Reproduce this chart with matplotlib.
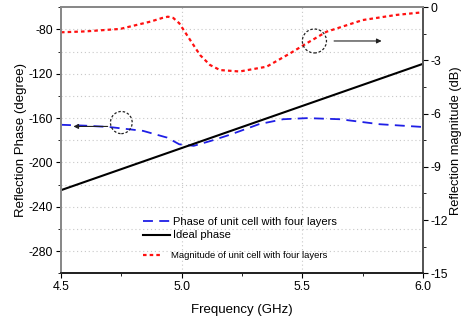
import numpy as np
import matplotlib
matplotlib.use("Agg")
from matplotlib import pyplot as plt
from matplotlib.patches import Ellipse

plt.rcParams['font.family'] = ['Liberation Sans', 'DejaVu Sans']
plt.rcParams['axes.unicode_minus'] = False

# magnitude of unit cell (dB), right axis
mag_f = [4.5, 4.6, 4.745, 4.87, 4.92, 4.943, 4.965, 4.99, 5.035, 5.076, 5.117, 5.159,
         5.24, 5.352, 5.449, 5.518, 5.6, 5.75, 5.89, 6.0]
mag_db = [-1.41, -1.36, -1.22, -0.81, -0.6, -0.53, -0.6, -0.9, -1.84, -2.69, -3.25, -3.54,
          -3.62, -3.35, -2.6, -2.03, -1.38, -0.72, -0.43, -0.28]

# phase of unit cell (degree), left axis
ph_f = [4.5, 4.6, 4.7, 4.84, 4.94, 4.99, 5.05, 5.12, 5.2, 5.32, 5.42, 5.52, 5.656, 5.82, 6.0]
ph_deg = [-166, -166.8, -168, -171.5, -177.6, -183.6, -185, -180.6, -175, -165.5, -161,
          -160, -161, -165.5, -168]

# ideal phase
ideal_f = [4.5, 6.0]
ideal_deg = [-225, -111]

fig = plt.figure(figsize=(4.61, 3.24), dpi=100)
ax = fig.add_axes([0.1323, 0.1565, 0.7853, 0.821])
ax2 = ax.twinx()

l1, = ax.plot(ph_f, ph_deg, color='#1f1fe6', lw=1.3, dashes=(5.5, 3.5),
              label='Phase of unit cell with four layers')
l2, = ax.plot(ideal_f, ideal_deg, color='black', lw=1.5, label='Ideal phase')
l3, = ax2.plot(mag_f, mag_db, color='#ff1010', lw=1.6, dashes=(1.6, 1.4),
               label='Magnitude of unit cell with four layers')

ax.set_xlim(4.5, 6.0)
ax.set_ylim(-300, -60)
ax2.set_ylim(-15, 0)
ax.set_xticks([4.5, 5.0, 5.5, 6.0])
ax.set_xticklabels(['4.5', '5.0', '5.5', '6.0'])
ax.set_xticks([4.75, 5.25, 5.75], minor=True)
ax.set_yticks([-280, -240, -200, -160, -120, -80])
ax.set_yticks(np.arange(-300, -59, 20), minor=True)
ax2.set_yticks([-15, -12, -9, -6, -3, 0])
ax2.set_yticks(np.arange(-15, 0.1, 1.5), minor=True)

for y in range(-280, -60, 20):
    ax.axhline(y, color='#c8c8c8', lw=0.8, ls=(0, (1, 2.5)), zorder=0)
for x in [5.0, 5.5]:
    ax.axvline(x, color='#c8c8c8', lw=0.8, ls=(0, (1, 2.5)), zorder=0)

for a in (ax, ax2):
    a.tick_params(which='both', direction='out', labelsize=8.8, pad=2)
    a.tick_params(which='major', length=3.5)
    a.tick_params(which='minor', length=2)
    a.spines['top'].set_color('#888888')
    a.spines['left'].set_color('#888888')
    a.spines['bottom'].set_color('#222222')
    a.spines['right'].set_color('#555555')
    for s in a.spines.values():
        s.set_linewidth(1.3)

ax.set_xlabel('Frequency (GHz)', fontsize=9.5, labelpad=8)
ax.set_ylabel('Reflection Phase (degree)', fontsize=9.5, labelpad=1)
ax2.set_ylabel('Reflection magnitude (dB)', fontsize=9.3, labelpad=1)

# annotations
ax.add_patch(Ellipse((4.75, -164), 0.09, 20, fill=False, ls=(0, (2, 1.5)),
                     color='#222222', lw=0.9, zorder=5))
ax.annotate('', xy=(4.54, -167.5), xytext=(4.705, -167.5),
            arrowprops=dict(arrowstyle='-|>', color='#222222', lw=0.8, mutation_scale=7))
ax2.add_patch(Ellipse((5.55, -1.9), 0.1, 1.35, fill=False, ls=(0, (2, 1.5)),
                      color='#222222', lw=0.9, zorder=5))
ax2.annotate('', xy=(5.84, -1.9), xytext=(5.62, -1.9),
             arrowprops=dict(arrowstyle='-|>', color='#222222', lw=0.8, mutation_scale=7))

leg1 = ax2.legend([l1, l2], [l1.get_label(), l2.get_label()],
                  loc='center left', bbox_to_anchor=(139 / 461, 1 - 228.5 / 324),
                  bbox_transform=fig.transFigure, borderaxespad=0, frameon=False,
                  fontsize=8, handlelength=2.4, handletextpad=0.3, labelspacing=0.35)
ax2.add_artist(leg1)
leg2 = ax2.legend([l3], [l3.get_label()],
                  loc='center left', bbox_to_anchor=(139.5 / 461, 1 - 256 / 324),
                  bbox_transform=fig.transFigure, borderaxespad=0, frameon=False,
                  fontsize=6.8, handlelength=2.0, handletextpad=0.9)

fig.savefig('out.png', dpi=100)
